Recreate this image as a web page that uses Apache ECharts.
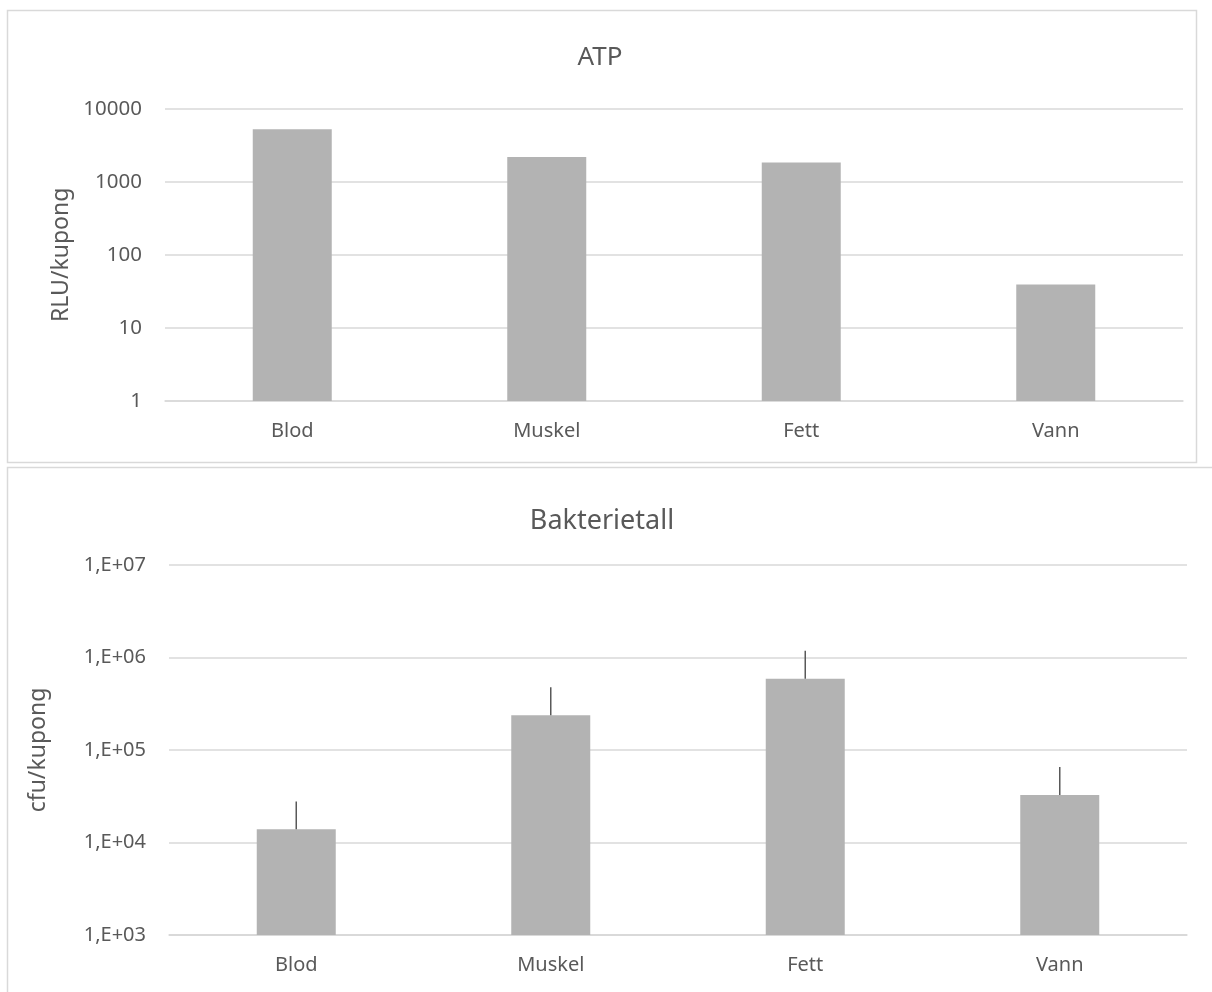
<!DOCTYPE html>
<html>
<head>
<meta charset="utf-8">
<script src="https://cdn.jsdelivr.net/npm/echarts@6/dist/echarts.min.js"></script>
<style>
html,body{margin:0;padding:0;background:#fff;}
#c{width:1212px;height:992px;}
</style>
</head>
<body>
<div id="c"></div>
<script>
const categories = ['Blod', 'Muskel', 'Fett', 'Vann'];
const atpValues = [5230, 2180, 1830, 39.4];
const bakterieValues = [13900, 237000, 590000, 32700];
const bakterieErrPlus = [13800, 240000, 590000, 32800];
const atpTitle = 'ATP';
const bakterieTitle = 'Bakterietall';
const atpAxisName = 'RLU/kupong';
const bakterieAxisName = 'cfu/kupong';

const FONT = '"Noto Sans", "Open Sans", sans-serif';
const TXT = '#595959';
const GRIDC = '#d9d9d9';
const BAR = '#b3b3b3';

const chart = echarts.init(document.getElementById('c'), null, {renderer: 'canvas'});

function sciLabel(v) {
  const e = Math.round(Math.log10(v));
  return '1,E+' + (e < 10 ? '0' + e : e);
}
function plainLabel(v) {
  return String(Math.round(v));
}

const errData = bakterieValues.map((v, i) => [i, v, v + bakterieErrPlus[i]]);

const option = {
  backgroundColor: '#fff',
  animation: false,
  graphic: [
    {type: 'rect', shape: {x: 7.5, y: 10.5, width: 1189, height: 452}, style: {fill: 'none', stroke: GRIDC, lineWidth: 1.5}, z: 0},
    {type: 'rect', shape: {x: 7.5, y: 467.5, width: 1230, height: 560}, style: {fill: 'none', stroke: GRIDC, lineWidth: 1.5}, z: 0},
    {type: 'text', x: 600, y: 58, style: {text: atpTitle, font: '26px ' + FONT, fill: TXT, textAlign: 'center', textVerticalAlign: 'middle'}},
    {type: 'text', x: 602, y: 521, style: {text: bakterieTitle, font: '27px ' + FONT, fill: TXT, textAlign: 'center', textVerticalAlign: 'middle'}}
  ],
  grid: [
    {left: 165, right: 29, top: 108.7, height: 292.3},
    {left: 169, right: 25, top: 565, height: 370}
  ],
  xAxis: [
    {type: 'category', gridIndex: 0, data: categories,
     axisLine: {lineStyle: {color: GRIDC, width: 1.5}}, axisTick: {show: false},
     axisLabel: {color: TXT, fontFamily: FONT, fontSize: 20, margin: 20}},
    {type: 'category', gridIndex: 1, data: categories,
     axisLine: {lineStyle: {color: GRIDC, width: 1.5}}, axisTick: {show: false},
     axisLabel: {color: TXT, fontFamily: FONT, fontSize: 20, margin: 20}}
  ],
  yAxis: [
    {type: 'log', gridIndex: 0, logBase: 10, min: 1, max: 10000,
     name: atpAxisName, nameLocation: 'middle', nameRotate: 90, nameGap: 85,
     nameTextStyle: {color: TXT, fontFamily: FONT, fontSize: 23},
     axisLine: {show: false}, axisTick: {show: false},
     splitLine: {lineStyle: {color: GRIDC, width: 1.5}},
     axisLabel: {color: TXT, fontFamily: FONT, fontSize: 20.5, margin: 23, formatter: plainLabel}},
    {type: 'log', gridIndex: 1, logBase: 10, min: 1000, max: 10000000,
     name: bakterieAxisName, nameLocation: 'middle', nameRotate: 90, nameGap: 119,
     nameTextStyle: {color: TXT, fontFamily: FONT, fontSize: 23},
     axisLine: {show: false}, axisTick: {show: false},
     splitLine: {lineStyle: {color: GRIDC, width: 1.5}},
     axisLabel: {color: TXT, fontFamily: FONT, fontSize: 20, margin: 23, formatter: sciLabel}}
  ],
  series: [
    {type: 'bar', xAxisIndex: 0, yAxisIndex: 0, data: atpValues, barWidth: 79,
     itemStyle: {color: BAR}, z: 2},
    {type: 'bar', xAxisIndex: 1, yAxisIndex: 1, data: bakterieValues, barWidth: 79,
     itemStyle: {color: BAR}, z: 2},
    {type: 'custom', xAxisIndex: 1, yAxisIndex: 1, data: errData, z: 3,
     renderItem: function (params, api) {
       const p0 = api.coord([api.value(0), api.value(1)]);
       const p1 = api.coord([api.value(0), api.value(2)]);
       return {type: 'line', shape: {x1: p0[0], y1: p0[1], x2: p1[0], y2: p1[1]},
               style: {stroke: '#595959', lineWidth: 1.5}};
     }}
  ]
};
chart.setOption(option);
</script>
</body>
</html>
